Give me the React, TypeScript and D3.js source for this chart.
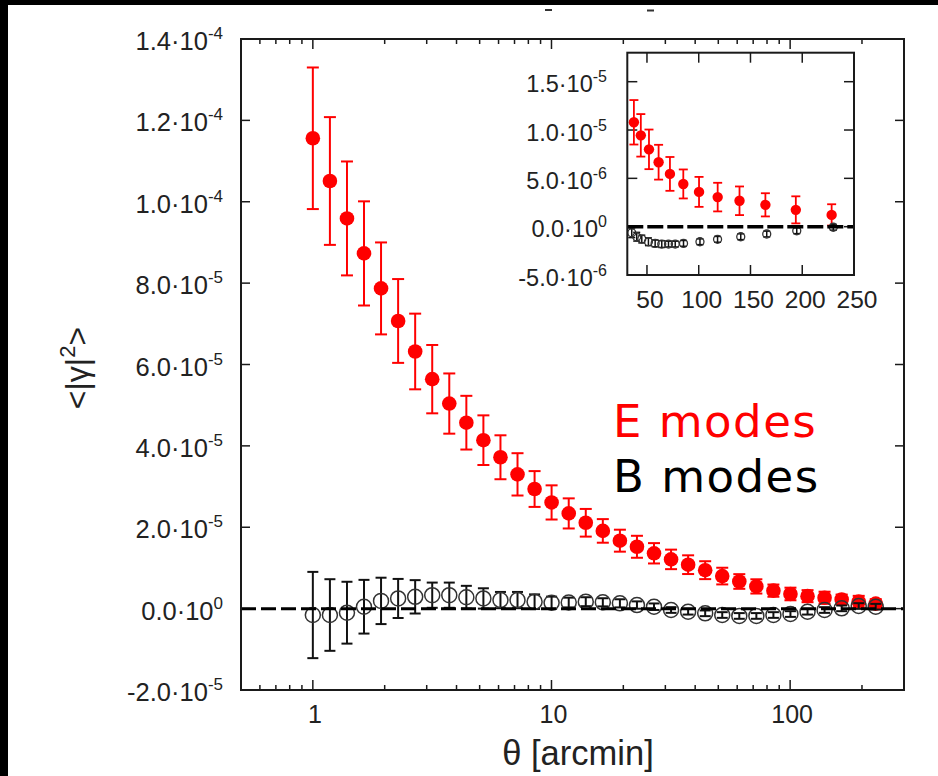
import React from 'react';
import * as d3 from 'd3';

// angular scale theta [arcmin]
const theta = [1.000, 1.179, 1.390, 1.638, 1.931, 2.277, 2.684, 3.164, 3.730, 4.398, 5.184, 6.112, 7.205, 8.495, 10.01, 11.81, 13.92, 16.41, 19.35, 22.81, 26.89, 31.70, 37.37, 44.06, 51.94, 61.23, 72.19, 85.10, 100.3, 118.3, 139.4, 164.4, 193.8, 228.4];
// E modes, units of 1e-5
const eModes = [11.56, 10.51, 9.59, 8.73, 7.87, 7.07, 6.32, 5.64, 5.04, 4.57, 4.14, 3.72, 3.30, 2.94, 2.61, 2.34, 2.11, 1.91, 1.67, 1.52, 1.36, 1.21, 1.08, 0.945, 0.80, 0.667, 0.546, 0.442, 0.36, 0.306, 0.268, 0.226, 0.174, 0.122];
const eErr = [1.74, 1.57, 1.40, 1.28, 1.13, 1.03, 0.93, 0.84, 0.74, 0.66, 0.61, 0.54, 0.52, 0.44, 0.42, 0.37, 0.34, 0.29, 0.27, 0.27, 0.25, 0.24, 0.23, 0.22, 0.205, 0.18, 0.175, 0.15, 0.155, 0.148, 0.148, 0.12, 0.14, 0.11];
// B modes, units of 1e-5
const bModes = [-0.157, -0.157, -0.10, 0.047, 0.19, 0.25, 0.29, 0.33, 0.33, 0.28, 0.25, 0.21, 0.21, 0.17, 0.145, 0.15, 0.17, 0.155, 0.13, 0.088, 0.047, -0.034, -0.076, -0.115, -0.157, -0.18, -0.18, -0.157, -0.133, -0.076, -0.034, 0.007, 0.064, 0.047];
const bErr = [1.06, 0.88, 0.76, 0.66, 0.57, 0.48, 0.41, 0.31, 0.31, 0.28, 0.25, 0.20, 0.20, 0.18, 0.15, 0.12, 0.11, 0.10, 0.10, 0.09, 0.08, 0.07, 0.07, 0.07, 0.07, 0.07, 0.07, 0.07, 0.07, 0.07, 0.07, 0.07, 0.07, 0.07];
// inset: first E index shown
const insetStart = 22;
// inset B modes, units of 1e-6
const insetBTheta = [35.3, 40.1, 45.0, 51.4, 57.9, 64.3, 70.8, 77.3, 85.3, 101.2, 118.2, 140.6, 165.7, 194.7, 230.0];
const insetB = [-0.63, -1.04, -1.28, -1.56, -1.73, -1.80, -1.80, -1.80, -1.73, -1.56, -1.31, -1.04, -0.76, -0.42, -0.06];
const insetBErr = [0.5, 0.45, 0.4, 0.4, 0.35, 0.35, 0.3, 0.3, 0.3, 0.3, 0.3, 0.3, 0.3, 0.3, 0.3];

const legendLabels = ['E modes', 'B modes'];
const xLabel = 'θ [arcmin]';

const TICKFONT = "'Liberation Sans', Arial, sans-serif";

function sciParts(v: number): [string, string] {
  if (Math.abs(v) < 1e-12) return ['0.0', '0'];
  const e = Math.floor(Math.log10(Math.abs(v)) + 1e-9);
  const m = v / Math.pow(10, e);
  return [m.toFixed(1), String(e)];
}

export default function App() {
  const W = 938, H = 776;
  const xMain = d3.scaleLog().domain([0.5, 300]).range([241, 904]);
  const yMain = d3.scaleLinear().domain([-2e-5, 1.4e-4]).range([690, 39]);
  const xIn = d3.scaleLinear().domain([31, 250]).range([627.3, 854]);
  const yIn = d3.scaleLinear().domain([-5e-6, 1.8e-5]).range([275, 52.7]);

  const [mx0, mx1] = xMain.range();
  const [my0, my1] = yMain.range(); // bottom, top
  const [ix0, ix1] = xIn.range();
  const [iy0, iy1] = yIn.range();

  const xTicks = xMain.ticks();
  const isMajor = (t: number) => Math.abs(Math.log10(t) - Math.round(Math.log10(t))) < 1e-6;
  const yTicks = yMain.ticks(8);
  const inXTicks = xIn.ticks(5);
  const inYTicks = yIn.ticks(5);

  const frameColor = '#1a1a1a';
  const labelColor = '#222';

  const E = theta.map((t, i) => ({ t, v: eModes[i] * 1e-5, e: eErr[i] * 1e-5 }));
  const B = theta.map((t, i) => ({ t, v: bModes[i] * 1e-5, e: bErr[i] * 1e-5 }));
  const EIn = E.slice(insetStart);
  const BIn = insetBTheta.map((t, i) => ({ t, v: insetB[i] * 1e-6, e: insetBErr[i] * 1e-6 }));

  return (
    <svg width={W} height={H} viewBox={`0 0 ${W} ${H}`} style={{ position: 'absolute', left: 0, top: 0, display: 'block', background: '#fff' }}>
      <rect x={0} y={0} width={W} height={H} fill="#fff" />
      {/* black border remnants */}
      <rect x={0} y={0} width={W} height={5} fill="#000" />
      <rect x={0} y={0} width={8} height={H} fill="#000" />
      {/* clipped title remnants */}
      <line x1={545} x2={552} y1={10} y2={10} stroke="#333" strokeWidth={2} />
      <line x1={647} x2={654} y1={10.5} y2={10.5} stroke="#333" strokeWidth={2} />

      {/* main x ticks (bottom and top) */}
      {xTicks.map((t, i) => {
        const x = xMain(t);
        const len = isMajor(t) ? 10 : 5;
        return (
          <g key={'xt' + i}>
            <line x1={x} x2={x} y1={my0} y2={my0 - len} stroke={frameColor} strokeWidth={1.5} />
            <line x1={x} x2={x} y1={my1} y2={my1 + len} stroke={frameColor} strokeWidth={1.5} />
          </g>
        );
      })}
      {xTicks.filter(isMajor).map((t, i) => (
        <text key={'xl' + i} x={xMain(t) + 2} y={723} textAnchor="middle" fontFamily={TICKFONT} fontSize={25} fill={labelColor}>
          {d3.format('d')(t)}
        </text>
      ))}
      {/* main y ticks */}
      {yTicks.map((t, i) => {
        const y = yMain(t);
        const [m, e] = sciParts(t);
        return (
          <g key={'yt' + i}>
            <line x1={mx0} x2={mx0 + 9} y1={y} y2={y} stroke={frameColor} strokeWidth={1.5} />
            <line x1={mx1} x2={mx1 - 9} y1={y} y2={y} stroke={frameColor} strokeWidth={1.5} />
            <text x={223} y={y + 11} textAnchor="end" fontFamily={TICKFONT} fontSize={25.5} fill={labelColor}>
              {m + '·10'}
              <tspan fontSize={17} dy={-11}>{e}</tspan>
            </text>
          </g>
        );
      })}

      {/* E modes main */}
      {E.map((d, i) => {
        const x = xMain(d.t);
        const yt = yMain(d.v + d.e), yb = yMain(d.v - d.e);
        return (
          <g key={'e' + i} stroke="#ff0000" strokeWidth={2}>
            <line x1={x} x2={x} y1={yt} y2={yb} />
            <line x1={x - 6} x2={x + 6} y1={yt} y2={yt} />
            <line x1={x - 6} x2={x + 6} y1={yb} y2={yb} />
            <circle cx={x} cy={yMain(d.v)} r={7.3} fill="#ff0000" stroke="none" />
          </g>
        );
      })}
      {/* B modes main */}
      {B.map((d, i) => {
        const x = xMain(d.t);
        const yt = yMain(d.v + d.e), yb = yMain(d.v - d.e);
        return (
          <g key={'b' + i} stroke="#111" strokeWidth={2} fill="none">
            <line x1={x} x2={x} y1={yt} y2={yb} />
            <line x1={x - 5.5} x2={x + 5.5} y1={yt} y2={yt} />
            <line x1={x - 5.5} x2={x + 5.5} y1={yb} y2={yb} />
            <circle cx={x} cy={yMain(d.v)} r={7.5} stroke="#333" strokeWidth={1.5} />
          </g>
        );
      })}
      {/* zero line */}
      <line x1={mx0} x2={mx1} y1={yMain(0)} y2={yMain(0)} stroke="#000" strokeWidth={3} strokeDasharray="15 5" />

      {/* main frame */}
      <rect x={mx0} y={my1} width={mx1 - mx0} height={my0 - my1} fill="none" stroke={frameColor} strokeWidth={2} />

      {/* inset */}
      <rect x={ix0} y={iy1} width={ix1 - ix0} height={iy0 - iy1} fill="#fff" />
      {inXTicks.map((t, i) => {
        const x = xIn(t);
        return (
          <g key={'ixt' + i}>
            <line x1={x} x2={x} y1={iy0} y2={iy0 - 10} stroke={frameColor} strokeWidth={1.5} />
            <line x1={x} x2={x} y1={iy1} y2={iy1 + 10} stroke={frameColor} strokeWidth={1.5} />
            <text x={x + 3} y={308} textAnchor="middle" fontFamily={TICKFONT} fontSize={24.5} fill={labelColor}>{String(t)}</text>
          </g>
        );
      })}
      {inYTicks.map((t, i) => {
        const y = yIn(t);
        const [m, e] = sciParts(t);
        return (
          <g key={'iyt' + i}>
            <line x1={ix0} x2={ix0 + 10} y1={y} y2={y} stroke={frameColor} strokeWidth={1.5} />
            <line x1={ix1} x2={ix1 - 10} y1={y} y2={y} stroke={frameColor} strokeWidth={1.5} />
            <text x={607} y={y + 10.5} textAnchor="end" fontFamily={TICKFONT} fontSize={23.5} fill={labelColor}>
              {m + '·10'}
              <tspan fontSize={16} dy={-10}>{e}</tspan>
            </text>
          </g>
        );
      })}
      {EIn.map((d, i) => {
        const x = xIn(d.t);
        const yt = yIn(d.v + d.e), yb = yIn(d.v - d.e);
        return (
          <g key={'ie' + i} stroke="#ff0000" strokeWidth={1.8}>
            <line x1={x} x2={x} y1={yt} y2={yb} />
            <line x1={x - 4.5} x2={x + 4.5} y1={yt} y2={yt} />
            <line x1={x - 4.5} x2={x + 4.5} y1={yb} y2={yb} />
            <circle cx={x} cy={yIn(d.v)} r={5.2} fill="#ff0000" stroke="none" />
          </g>
        );
      })}
      {BIn.map((d, i) => {
        const x = xIn(d.t);
        const yt = yIn(d.v + d.e), yb = yIn(d.v - d.e);
        return (
          <g key={'ib' + i} stroke="#111" strokeWidth={1.5} fill="none">
            <line x1={x} x2={x} y1={yt} y2={yb} />
            <line x1={x - 3.5} x2={x + 3.5} y1={yt} y2={yt} />
            <line x1={x - 3.5} x2={x + 3.5} y1={yb} y2={yb} />
            <circle cx={x} cy={yIn(d.v)} r={4} stroke="#333" strokeWidth={1.3} />
          </g>
        );
      })}
      <line x1={ix0} x2={ix1} y1={yIn(0)} y2={yIn(0)} stroke="#000" strokeWidth={3.5} strokeDasharray="16 4" />
      <rect x={ix0} y={iy1} width={ix1 - ix0} height={iy0 - iy1} fill="none" stroke={frameColor} strokeWidth={2} />

      {/* legend */}
      <text x={613} y={437} fontFamily="'DejaVu Sans', Verdana, sans-serif" fontSize={45} letterSpacing={1.5} fill="#ff0000">{legendLabels[0]}</text>
      <text x={613} y={492} fontFamily="'DejaVu Sans', Verdana, sans-serif" fontSize={45} letterSpacing={1.5} fill="#000">{legendLabels[1]}</text>

      {/* axis labels */}
      <text x={578} y={765} textAnchor="middle" fontFamily={TICKFONT} fontSize={34.5} fill={labelColor}>{xLabel}</text>
      <text transform="translate(88,368) rotate(-90)" textAnchor="middle" fontFamily={TICKFONT} fontSize={32} fill={labelColor}>
        {'<|γ|'}
        <tspan fontSize={22} dy={-13}>2</tspan>
        <tspan dy={13}>{'>'}</tspan>
      </text>
    </svg>
  );
}
